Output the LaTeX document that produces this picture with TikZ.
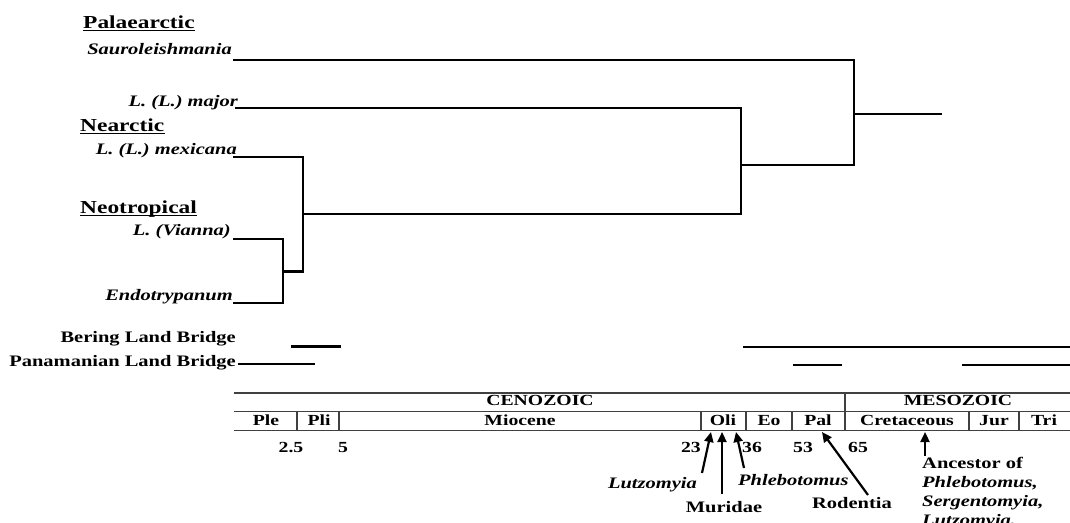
\documentclass[tikz,border=0pt]{standalone}
\usepackage{fontspec}
\setmainfont{Liberation Serif}[FakeStretch=1.28]
\usetikzlibrary{arrows.meta}
\begin{document}
\begin{tikzpicture}[x=1pt,y=-1pt,
  tree/.style={line width=2.6pt,line join=miter},
  bar/.style={line width=2.6pt},
  uline/.style={line width=1.3pt},
  tabline/.style={line width=1.4pt,black!75},
  arr/.style={line width=2.2pt,-{Triangle[length=10pt,width=9pt]}},
  taxon/.style={font=\fontsize{16}{18}\selectfont\bfseries\itshape,inner sep=0pt,anchor=base east},
  region/.style={font=\fontsize{18.3}{20}\selectfont\bfseries,inner sep=0pt,anchor=base west},
  plain/.style={font=\fontsize{16}{18}\selectfont\bfseries,inner sep=0pt},
  ital/.style={font=\fontsize{16}{18}\selectfont\bfseries\itshape,inner sep=0pt},
  tab/.style={font=\fontsize{15.4}{17}\selectfont\bfseries,inner sep=0pt,anchor=base}]
\useasboundingbox (0,0) rectangle (1070,522);

% region headers
\node[region] (pal) at (83,28) {Palaearctic};
\node[region] (nea) at (80,131) {Nearctic};
\node[region] (neo) at (80,213) {Neotropical};
\foreach \r in {pal,nea,neo}
  \draw[uline] ([yshift=-2.5pt]\r.base west) -- ([yshift=-2.5pt]\r.base east);

% taxa
\node[taxon] (sau) at (232,54) {Sauroleishmania};
\node[taxon] (maj) at (238,106) {L. (L.) major};
\node[taxon] (mex) at (237,154) {L. (L.) mexicana};
\node[taxon] (via) at (231,235) {L. (Vianna)};
\node[taxon] (end) at (233,300) {Endotrypanum};

% tree
\coordinate (tS) at (233,60);
\coordinate (tM) at (235,108);
\coordinate (tX) at (233,157);
\coordinate (tV) at (233,239);
\coordinate (tE) at (233,303);
\coordinate (jVE) at (283,271.5);
\coordinate (jX) at (303,214);
\coordinate (jM) at (741,165);
\coordinate (jR) at (854,114);
\coordinate (root) at (942,114);
\draw[tree] (tV) -| (jVE) |- (tE);
\draw[tree] (tX) -| (jX) |- (jVE);
\draw[tree] (tM) -| (jM) |- (jX);
\draw[tree] (tS) -| (jR) |- (jM);
\draw[tree] (jR) -- (root);

% land bridges
\node[plain,anchor=base east] (ber) at (236,342) {Bering Land Bridge};
\node[plain,anchor=base east] (pan) at (236,366) {Panamanian Land Bridge};
\draw[bar] (291,346.5) -- (341,346.5);
\draw[bar] (743,347) -- (1070,347);
\draw[bar] (238,364) -- (315,364);
\draw[bar] (793,365) -- (842,365);
\draw[bar] (962,365) -- (1070,365);

% time scale table
\draw[tabline] (234,393) -- (1070,393);
\draw[tabline] (234,411.5) -- (1070,411.5);
\draw[tabline] (234,430.5) -- (1070,430.5);
\draw[tabline] (845,393) -- (845,430.5);
\foreach \x in {297,339,701,746,792,969,1019}
  \draw[tabline] (\x,411.5) -- (\x,430.5);
\node[tab] (ceno) at (540,405.5) {CENOZOIC};
\node[tab] (meso) at (958,405.5) {MESOZOIC};
\node[tab] (ple) at (266,425) {Ple};
\node[tab] (pli) at (319,425) {Pli};
\node[tab] (mio) at (520,425) {Miocene};
\node[tab] (oli) at (723,425) {Oli};
\node[tab] (eo) at (769,425) {Eo};
\node[tab] (pale) at (818,425) {Pal};
\node[tab] (cret) at (907,425) {Cretaceous};
\node[tab] (jur) at (994,425) {Jur};
\node[tab] (tri) at (1044,425) {Tri};

% ages
\node[tab] (n25) at (291,452) {2.5};
\node[tab] (n5) at (343,452) {5};
\node[tab,anchor=base east] (n23) at (701,452) {23};
\node[tab,anchor=base west] (n36) at (742,452) {36};
\node[tab,anchor=base west] (n53) at (793,452) {53};
\node[tab,anchor=base west] (n65) at (848,452) {65};

% event arrows
\coordinate (aL) at (711,432);
\coordinate (aM) at (722,432);
\coordinate (aP) at (736,432);
\coordinate (aR) at (822,432);
\coordinate (aA) at (925,432);
\coordinate (lL) at (702,473);
\coordinate (lM) at (722,494);
\coordinate (lP) at (744,468);
\coordinate (lR) at (868,495);
\coordinate (lA) at (925,456);
\draw[arr] (lL) -- (aL);
\draw[arr] (lM) -- (aM);
\draw[arr] (lP) -- (aP);
\draw[arr] (lR) -- (aR);
\draw[arr] (lA) -- (aA);

\node[ital,anchor=base east] (lut) at (697,488) {Lutzomyia};
\node[plain,anchor=base] (mur) at (724,512) {Muridae};
\node[ital,anchor=base west] (phl) at (738,485) {Phlebotomus};
\node[plain,anchor=base] (rod) at (852,508) {Rodentia};
\node[plain,anchor=base west] (anc1) at (922,468) {Ancestor of};
\node[ital,anchor=base west] (anc2) at (922,487) {Phlebotomus,};
\node[ital,anchor=base west] (anc3) at (922,506) {Sergentomyia,};
\node[ital,anchor=base west] (anc4) at (922,525) {Lutzomyia,};
\end{tikzpicture}
\end{document}
